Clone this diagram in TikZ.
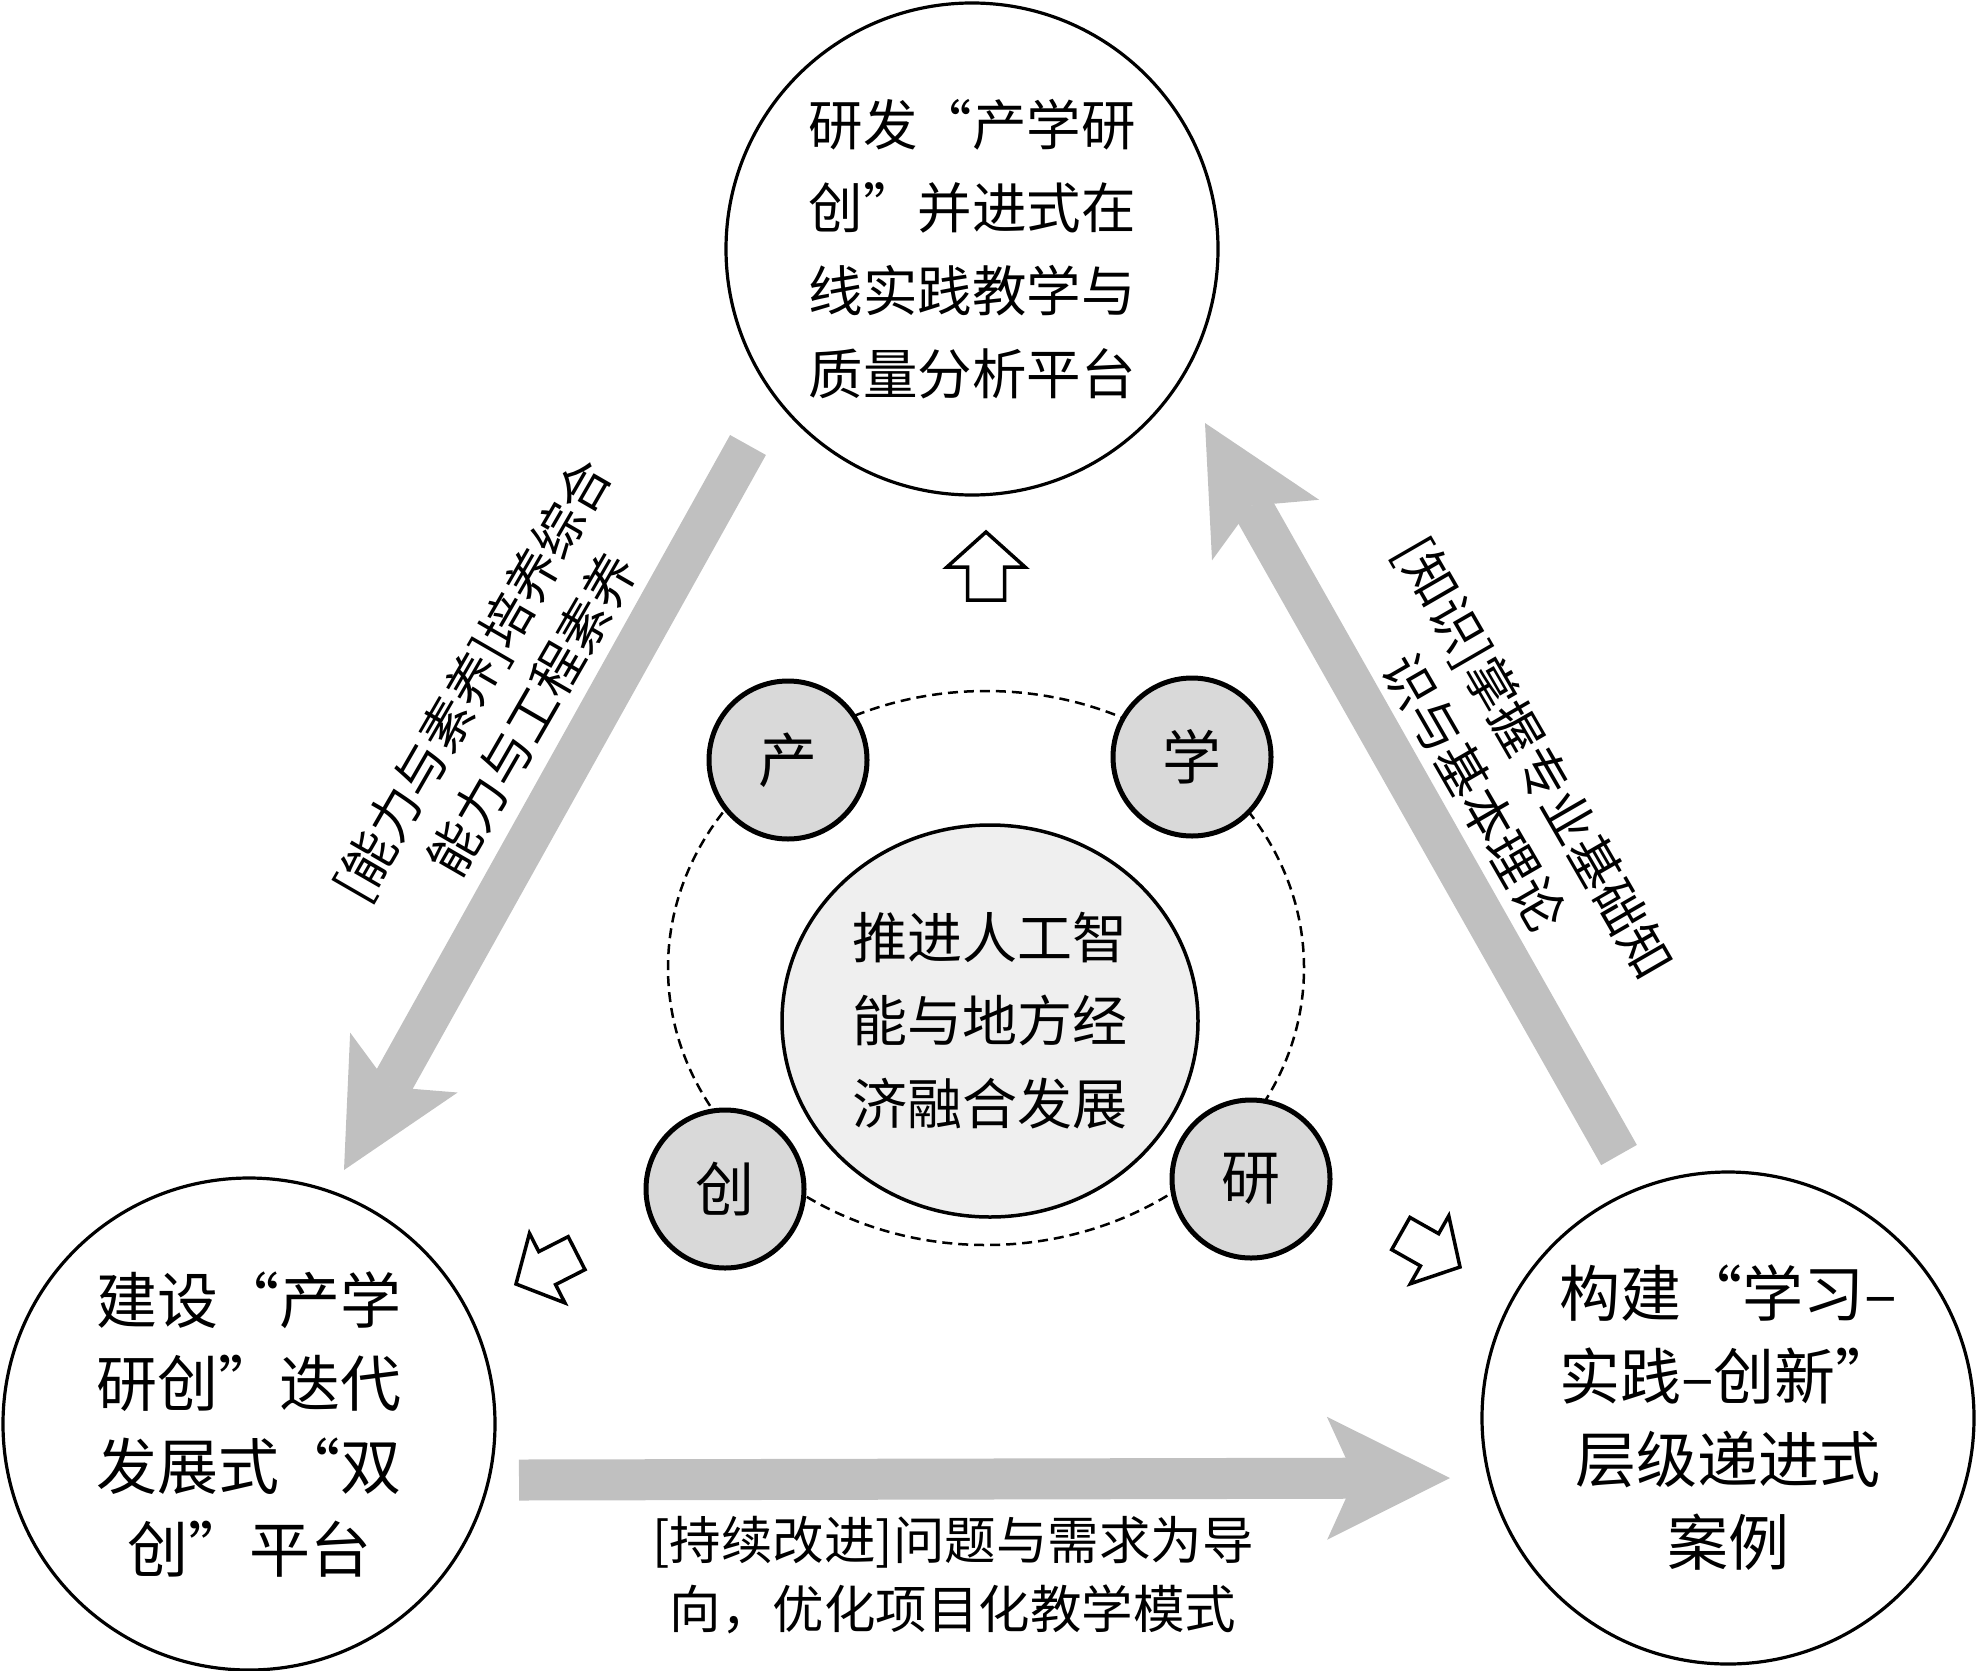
\documentclass[tikz,border=0pt]{standalone}
\usepackage{fontspec}
\newfontfamily\cjk{Noto Sans CJK SC}
\usetikzlibrary{arrows.meta,shapes.geometric}
\definecolor{arrowgray}{RGB}{192,192,192}
\definecolor{smallfill}{RGB}{217,217,217}
\definecolor{centerfill}{RGB}{239,239,239}
\newcommand\myoq{\makebox[1em][r]{“}}
\newcommand\mycq{\makebox[1em][l]{”}}
\begin{document}
\begin{tikzpicture}[x=1pt,y=-1pt,
  bigcircle/.style={circle, draw, line width=3.2pt, fill=white, minimum size=492pt, inner sep=0pt, align=center},
  bigtext/.style={font=\cjk\fontsize{61}{83}\selectfont},
  toptext/.style={font=\cjk\fontsize{54.5}{83}\selectfont},
  smallc/.style={circle, draw, line width=5pt, fill=smallfill, minimum size=158pt, inner sep=0pt, font=\cjk\fontsize{59}{59}\selectfont},
  corec/.style={ellipse, draw, line width=3.5pt, fill=centerfill, minimum width=416pt, minimum height=392pt, inner sep=0pt, align=center, font=\cjk\fontsize{55}{83}\selectfont},
  ringc/.style={ellipse, draw, line width=2.5pt, dash pattern=on 10pt off 6pt, minimum width=636pt, minimum height=554pt, inner sep=0pt},
  lbl/.style={align=center, inner sep=0pt, font=\cjk\fontsize{51.5}{69}\selectfont},
  bigarrow/.style={draw=arrowgray, line width=41pt, -{Stealth[length=123pt, width=123pt, inset=28pt, line width=0pt]}},
  hollowarrow/.pic={\draw[line width=3.5pt, fill=white, line join=miter] (0,0) -- (-35,39) -- (-35,18.5) -- (-68,18.5) -- (-68,-18.5) -- (-35,-18.5) -- (-35,-39) -- cycle;}
]
\useasboundingbox (0,0) rectangle (1977,1670);

% big circles
\node[bigcircle, toptext] (top) at (972,249) {研发\myoq 产学研\\创\mycq 并进式在\\线实践教学与\\质量分析平台};
\node[bigcircle, bigtext] (left) at (249,1424) {建设\myoq 产学\\研创\mycq 迭代\\发展式\myoq 双\\创\mycq 平台};
\node[bigcircle, bigtext] (right) at (1728,1418) {构建\myoq 学习–\\实践–创新\mycq\\层级递进式\\案例};

% central cluster
\node[ringc] (ring) at (986,968) {};
\node[corec] (core) at (990,1021) {推进人工智\\能与地方经\\济融合发展};
\node[smallc] (chan) at (788,760) {产};
\node[smallc] (xue) at (1192,757) {学};
\node[smallc] (chuang) at (725,1189) {创};
\node[smallc] (yan) at (1251,1179) {研};

% gray arrows
\coordinate (ltail) at (748,445);
\coordinate (ltip) at (344,1170);
\coordinate (rtail) at (1619,1155);
\coordinate (rtip) at (1205,423);
\coordinate (btail) at (519,1480);
\coordinate (btip) at (1450,1478);
\draw[bigarrow] (ltail) -- (ltip);
\draw[bigarrow] (rtail) -- (rtip);
\draw[bigarrow] (btail) -- (btip);

% hollow arrows
\pic[rotate=90] at (986,532) {hollowarrow};
\pic[rotate=207] at (516,1284) {hollowarrow};
\pic[rotate=-29.5] at (1460,1267) {hollowarrow};

% labels
\node[lbl, rotate=60] (lblleft) at (502,697) {[能力与素养]培养综合\\能力与工程素养};
\node[lbl, rotate=-60] (lblright) at (1505,775) {[知识]掌握专业基础知\\识与基本理论};
\node[lbl] (lblbottom) at (953,1575) {[持续改进]问题与需求为导\\向，优化项目化教学模式};
\end{tikzpicture}
\end{document}
